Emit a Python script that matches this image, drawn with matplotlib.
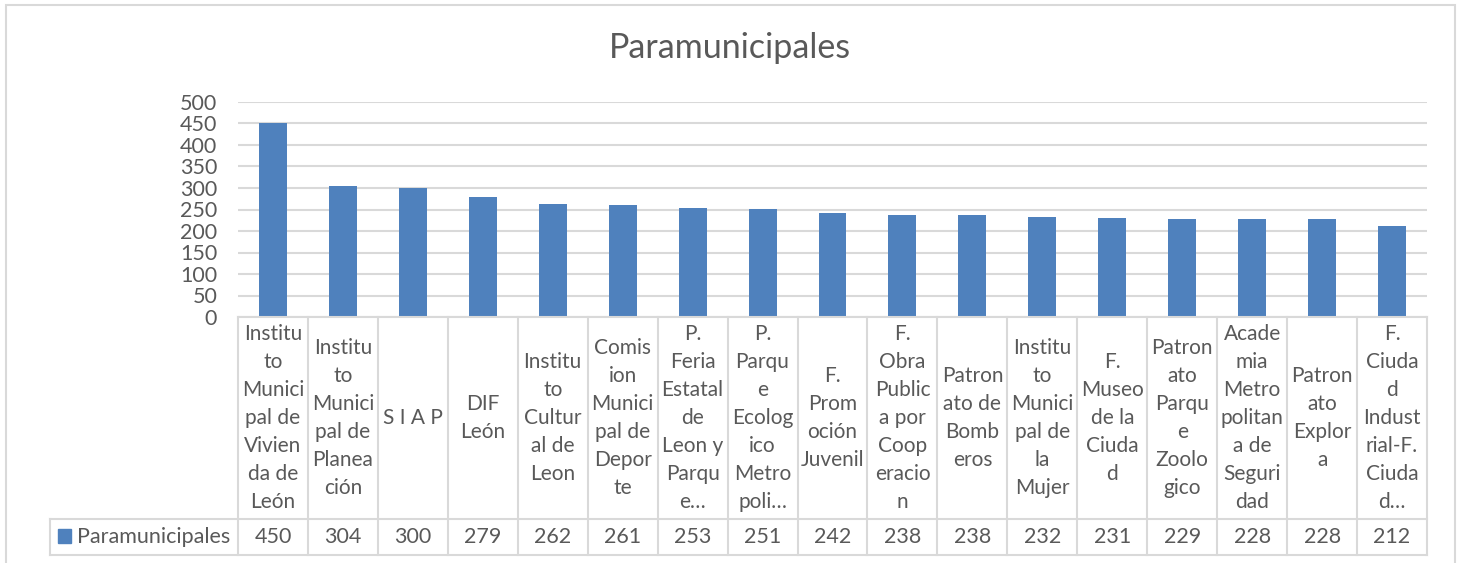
import matplotlib.pyplot as plt
from matplotlib.lines import Line2D
from matplotlib.patches import Rectangle
from matplotlib.transforms import blended_transform_factory

# datos
categorias = [
    "Institu\nto\nMunici\npal de\nVivien\nda de\nLeón",
    "Institu\nto\nMunici\npal de\nPlanea\nción",
    "S I A P",
    "DIF\nLeón",
    "Institu\nto\nCultur\nal de\nLeon",
    "Comis\nion\nMunici\npal de\nDepor\nte",
    "P.\nFeria\nEstatal\nde\nLeon y\nParqu\ne…",
    "P.\nParqu\ne\nEcolog\nico\nMetro\npoli…",
    "F.\nProm\noción\nJuvenil",
    "F.\nObra\nPublic\na por\nCoop\neracio\nn",
    "Patron\nato de\nBomb\neros",
    "Institu\nto\nMunici\npal de\nla\nMujer",
    "F.\nMuseo\nde la\nCiuda\nd",
    "Patron\nato\nParqu\ne\nZoolo\ngico",
    "Acade\nmia\nMetro\npolitan\na de\nSeguri\ndad",
    "Patron\nato\nExplor\na",
    "F.\nCiuda\nd\nIndust\nrial-F.\nCiuda\nd…",
]
valores = [450, 304, 300, 279, 262, 261, 253, 251, 242, 238, 238, 232, 231, 229, 228, 228, 212]
serie = "Paramunicipales"

W, H = 1460, 563
AZUL = "#4f81bd"
GRIS = "#595959"
LINEA = "#d9d9d9"
plt.rcParams["font.family"] = ["Lato", "DejaVu Sans"]

def fx(px):
    return px / W

def fy(py):
    return 1 - py / H

fig = plt.figure(figsize=(W / 100, H / 100), dpi=100)
ax = fig.add_axes([fx(238), fy(317), fx(1427) - fx(238), fy(102) - fy(317)])

x = range(len(valores))
ax.bar(x, valores, width=0.4, color=AZUL, zorder=3)
ax.set_xlim(-0.5, len(valores) - 0.5)
ax.set_ylim(0, 500)
ax.set_yticks(range(0, 501, 50))
ax.tick_params(axis="y", length=0, labelsize=15.5, labelcolor=GRIS, pad=15)
ax.set_xticks([])
ax.grid(axis="y", color=LINEA, linewidth=1.5, zorder=0)
for s in ax.spines.values():
    s.set_visible(False)

fig.text(0.5, fy(48), "Paramunicipales", ha="center", va="center", fontsize=24.5, color=GRIS)

# borde del gráfico
fig.patches.append(Rectangle((fx(6), fy(570)), fx(1455) - fx(6), fy(5) - fy(570),
                             transform=fig.transFigure, fill=False, edgecolor=LINEA, linewidth=1.5))

# tabla de datos
tr = blended_transform_factory(ax.transData, fig.transFigure)
n = len(valores)
y_top, y_mid, y_bot = 317, 519, 555
fig.add_artist(Line2D([fx(238), fx(1427)], [fy(y_top)] * 2, transform=fig.transFigure, color=LINEA, lw=1.5))
for yy in (y_mid, y_bot):
    fig.add_artist(Line2D([fx(50), fx(1427)], [fy(yy)] * 2, transform=fig.transFigure, color=LINEA, lw=1.5))
fig.add_artist(Line2D([fx(50)] * 2, [fy(y_mid), fy(y_bot)], transform=fig.transFigure, color=LINEA, lw=1.5))
for i in range(n + 1):
    fig.add_artist(Line2D([i - 0.5] * 2, [fy(y_top), fy(y_bot)], transform=tr, color=LINEA, lw=1.5))

for i, (c, v) in enumerate(zip(categorias, valores)):
    fig.text(i, fy((y_top + y_mid) / 2), c, transform=tr, ha="center", va="center",
             fontsize=15, color=GRIS, linespacing=1.5)
    fig.text(i, fy((y_mid + y_bot) / 2), str(v), transform=tr, ha="center", va="center",
             fontsize=15.5, color=GRIS)

fig.patches.append(Rectangle((fx(58), fy(543)), fx(13), fy(529) - fy(543),
                             transform=fig.transFigure, color=AZUL))
fig.text(fx(77), fy((y_mid + y_bot) / 2), serie, ha="left", va="center", fontsize=15.5, color=GRIS)

fig.savefig("out.png", dpi=100)
